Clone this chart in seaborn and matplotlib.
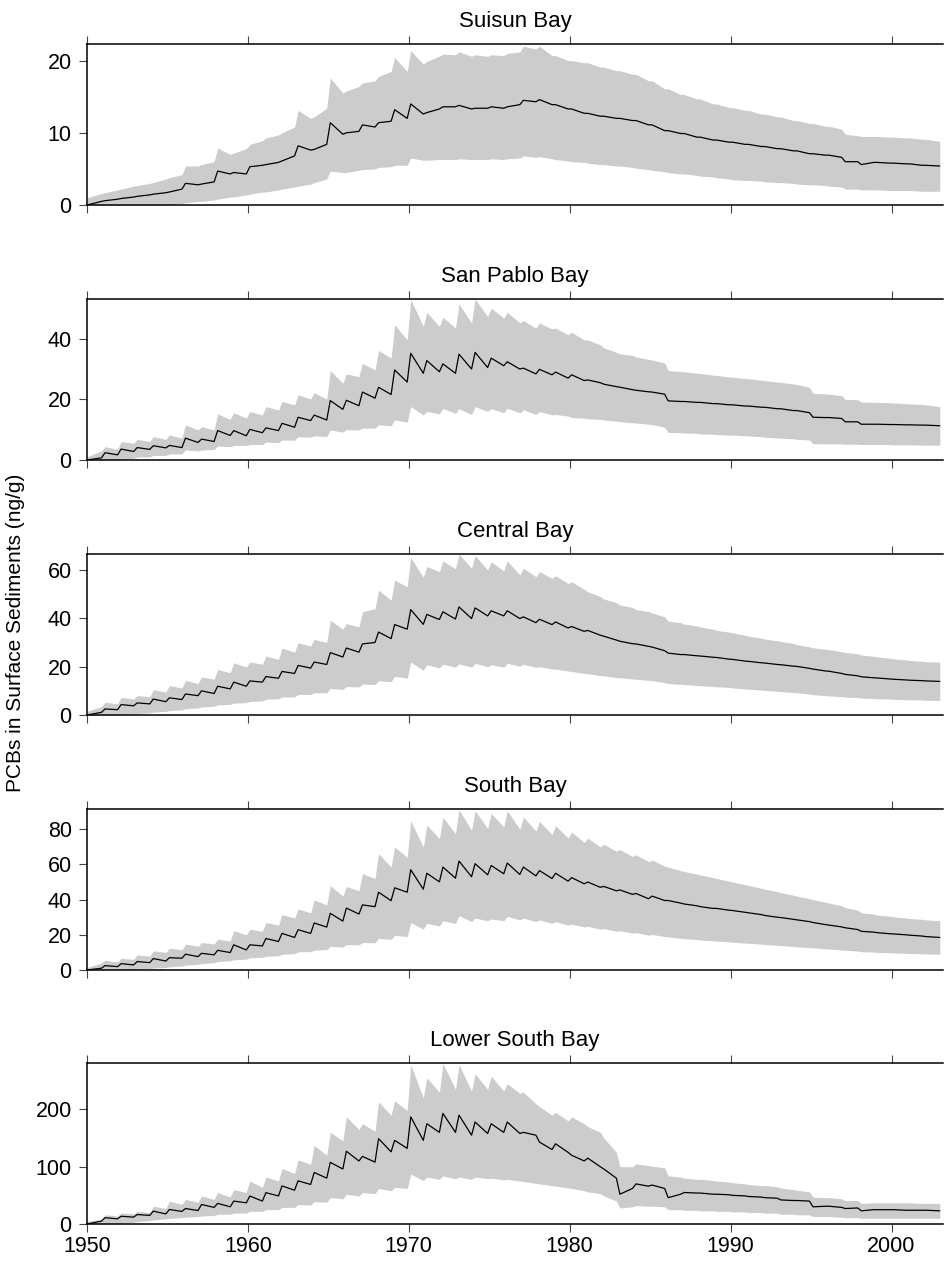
import numpy as np
import pandas as pd
import seaborn as sns
import matplotlib
matplotlib.use("Agg")
import matplotlib.pyplot as plt

# one value per year 1950..2002: "hi" = just after the yearly jump, "lo" = end of year
years = list(range(1950, 2003))

# Suisun Bay
suisun_mean_hi = [0.0, 0.6, 0.9, 1.2, 1.5, 1.8, 3.0, 2.9, 4.7, 4.5,
                  5.3, 5.6, 6.1, 8.2, 7.7, 11.4, 10.0, 11.1, 11.4, 13.2,
                  14.0, 12.8, 13.6, 13.8, 13.4, 13.6, 13.6, 14.5, 14.6, 13.9,
                  13.3, 12.7, 12.3, 12.0, 11.7, 11.1, 10.3, 9.9, 9.4, 9.0,
                  8.7, 8.4, 8.1, 7.8, 7.5, 7.1, 6.9, 6.0, 5.6, 5.9,
                  5.8, 5.7, 5.5]
suisun_mean_lo = [0.5, 0.8, 1.1, 1.4, 1.7, 2.2, 2.8, 3.2, 4.3, 4.3,
                  5.5, 5.9, 6.8, 7.6, 8.4, 9.8, 10.2, 10.8, 11.6, 12.0,
                  12.6, 13.3, 13.6, 13.3, 13.4, 13.4, 13.9, 14.3, 13.9, 13.3,
                  12.7, 12.3, 12.0, 11.7, 11.1, 10.3, 9.9, 9.4, 9.0, 8.7,
                  8.4, 8.1, 7.8, 7.5, 7.1, 6.9, 6.6, 6.0, 5.9, 5.8,
                  5.7, 5.5, 5.4]
suisun_up_hi = [1.0, 1.7, 2.2, 2.7, 3.1, 3.8, 5.4, 5.6, 7.9, 7.2,
                8.4, 9.3, 10.0, 13.1, 12.2, 17.6, 15.8, 16.9, 17.8, 20.4,
                21.4, 19.9, 20.9, 21.2, 20.8, 20.8, 21.0, 22.0, 22.0, 20.7,
                20.0, 19.7, 19.1, 18.6, 18.1, 17.2, 16.1, 15.3, 14.7, 14.0,
                13.5, 13.1, 12.6, 12.2, 11.7, 11.3, 10.9, 9.8, 9.5, 9.5,
                9.4, 9.3, 9.1]
suisun_up_lo = [1.6, 2.1, 2.6, 3.0, 3.6, 4.2, 5.4, 6.0, 7.0, 7.8,
                8.9, 9.7, 10.8, 12.0, 13.4, 15.5, 16.4, 17.2, 18.5, 18.5,
                19.5, 20.6, 20.8, 20.6, 20.6, 20.7, 21.2, 21.6, 20.7, 20.0,
                19.7, 19.1, 18.6, 18.1, 17.2, 16.1, 15.3, 14.7, 14.0, 13.5,
                13.1, 12.6, 12.2, 11.7, 11.3, 10.9, 10.5, 9.6, 9.5, 9.4,
                9.3, 9.1, 8.8]
suisun_dn_hi = [0, 0, 0, 0, 0, 0.0, 0.3, 0.5, 0.8, 1.1,
                1.5, 1.8, 2.2, 2.6, 3.1, 4.7, 4.5, 4.9, 5.2, 5.5,
                6.5, 6.2, 6.3, 6.4, 6.3, 6.4, 6.4, 6.8, 6.7, 6.3,
                6.0, 5.8, 5.6, 5.4, 5.1, 4.8, 4.5, 4.3, 4.0, 3.8,
                3.5, 3.4, 3.2, 3.1, 2.9, 2.8, 2.6, 2.2, 2.1, 2.1,
                2.0, 2.0, 1.9]
suisun_dn_lo = [0, 0, 0, 0, 0, 0.2, 0.5, 0.7, 1.1, 1.4,
                1.8, 2.1, 2.5, 2.9, 3.6, 4.5, 4.8, 5.0, 5.3, 5.5,
                6.2, 6.3, 6.3, 6.3, 6.3, 6.3, 6.5, 6.6, 6.4, 6.1,
                5.9, 5.6, 5.4, 5.2, 4.9, 4.6, 4.3, 4.1, 3.9, 3.6,
                3.4, 3.3, 3.1, 3.0, 2.8, 2.7, 2.5, 2.2, 2.1, 2.0,
                2.0, 1.9, 1.9]

# San Pablo Bay
sanpablo_mean_hi = [0.0, 2.4, 3.6, 4.1, 4.7, 4.8, 7.2, 6.9, 9.7, 9.7,
                    10.1, 10.6, 12.1, 14.1, 14.8, 19.6, 19.7, 22.4, 24.0, 29.7,
                    35.2, 32.8, 31.7, 34.9, 35.5, 33.6, 32.4, 30.3, 29.9, 29.0,
                    28.1, 26.4, 25.0, 24.0, 23.0, 22.4, 19.5, 19.3, 19.0, 18.6,
                    18.2, 17.8, 17.4, 16.9, 16.3, 14.1, 14.0, 12.6, 11.8, 11.8,
                    11.7, 11.6, 11.5]
sanpablo_mean_lo = [0.7, 1.7, 2.8, 3.5, 4.0, 4.1, 5.8, 6.1, 8.1, 8.0,
                    9.0, 9.7, 10.8, 13.0, 13.2, 16.7, 17.9, 20.4, 21.6, 25.7,
                    28.6, 29.1, 28.6, 30.0, 30.5, 31.1, 30.0, 28.4, 28.1, 27.0,
                    26.2, 25.5, 24.2, 23.2, 22.5, 21.7, 19.3, 19.0, 18.6, 18.2,
                    17.8, 17.4, 16.9, 16.3, 15.6, 14.0, 13.7, 12.6, 11.8, 11.7,
                    11.6, 11.5, 11.3]
sanpablo_up_hi = [1.1, 4.4, 6.1, 6.8, 7.7, 8.3, 11.6, 11.0, 15.2, 15.6,
                  16.0, 17.6, 19.3, 21.5, 22.2, 29.5, 28.4, 31.9, 36.1, 44.6,
                  52.9, 48.7, 47.1, 51.5, 53.1, 50.1, 48.7, 46.0, 45.2, 43.5,
                  42.1, 39.6, 37.0, 35.0, 34.0, 33.0, 29.5, 29.1, 28.5, 27.9,
                  27.3, 26.8, 26.2, 25.6, 24.9, 22.0, 21.7, 20.0, 19.1, 19.0,
                  18.8, 18.5, 18.2]
sanpablo_up_lo = [3.0, 3.5, 5.5, 6.1, 6.8, 7.2, 9.9, 9.9, 13.4, 13.8,
                  14.8, 16.5, 18.2, 20.1, 20.1, 25.3, 27.5, 29.7, 33.6, 39.6,
                  44.1, 44.1, 43.5, 45.2, 47.3, 46.8, 45.2, 43.5, 43.2, 41.3,
                  39.6, 38.0, 35.5, 34.5, 33.2, 32.0, 29.2, 28.6, 28.0, 27.4,
                  26.9, 26.3, 25.7, 25.1, 24.0, 21.8, 21.2, 19.9, 19.0, 18.9,
                  18.6, 18.3, 17.6]
sanpablo_dn_hi = [0, 0, 0.2, 1.0, 1.5, 2.0, 3.3, 3.3, 4.6, 4.8,
                  5.1, 5.9, 6.6, 7.7, 8.0, 9.9, 10.0, 10.5, 11.6, 13.2,
                  17.6, 16.0, 17.0, 16.9, 17.6, 16.9, 17.1, 16.6, 16.0, 15.0,
                  14.0, 13.6, 13.2, 12.6, 12.2, 11.7, 9.1, 8.9, 8.6, 8.4,
                  8.2, 7.9, 7.5, 7.2, 6.8, 5.4, 5.3, 5.2, 5.1, 5.1,
                  5.0, 5.0, 4.9]
sanpablo_dn_lo = [0, 0, 0.5, 1.0, 1.5, 2.0, 3.0, 3.5, 4.4, 4.8,
                  5.1, 5.7, 6.5, 7.5, 7.7, 9.2, 9.9, 10.5, 11.3, 12.5,
                  14.9, 15.2, 15.4, 15.0, 16.0, 15.6, 15.5, 15.0, 14.9, 14.5,
                  13.8, 13.4, 12.8, 12.3, 11.8, 10.8, 9.0, 8.8, 8.5, 8.2,
                  8.0, 7.7, 7.3, 7.0, 6.6, 5.3, 5.3, 5.2, 5.1, 5.1,
                  5.0, 4.9, 4.9]

# Central Bay
central_mean_hi = [0.0, 2.5, 4.3, 5.0, 6.6, 7.1, 8.7, 10.0, 11.9, 13.6,
                   14.1, 15.9, 18.0, 20.5, 21.9, 25.8, 27.7, 29.4, 34.3, 37.4,
                   43.6, 41.6, 42.7, 44.7, 44.3, 43.1, 43.1, 40.6, 39.6, 38.5,
                   36.6, 35.0, 32.6, 30.5, 29.4, 28.1, 25.6, 25.0, 24.4, 23.8,
                   23.0, 22.2, 21.5, 20.8, 20.1, 19.0, 18.1, 16.8, 15.8, 15.3,
                   14.8, 14.4, 14.1]
central_mean_lo = [1.1, 2.2, 3.8, 4.6, 5.5, 6.4, 8.0, 8.9, 10.8, 11.9,
                   13.6, 15.2, 17.2, 19.4, 20.9, 24.0, 26.0, 30.0, 31.6, 35.5,
                   37.5, 39.5, 39.7, 39.9, 41.0, 41.0, 39.9, 38.2, 37.4, 36.0,
                   34.6, 33.0, 31.0, 29.5, 28.4, 26.6, 25.0, 24.5, 23.9, 23.1,
                   22.3, 21.6, 20.9, 20.2, 19.3, 18.2, 17.2, 16.2, 15.4, 14.9,
                   14.5, 14.2, 13.9]
central_up_hi = [1.5, 5.3, 7.3, 8.0, 10.5, 12.2, 14.3, 15.7, 18.8, 21.6,
                 21.9, 24.4, 27.7, 29.9, 31.3, 39.2, 37.8, 42.7, 51.7, 55.8,
                 65.1, 61.4, 63.7, 66.5, 65.9, 63.4, 63.7, 60.7, 59.3, 57.6,
                 55.1, 51.0, 48.0, 45.5, 43.6, 42.2, 38.8, 37.6, 36.4, 35.0,
                 34.0, 32.6, 31.4, 30.4, 29.1, 27.8, 27.0, 25.9, 24.8, 24.0,
                 23.2, 22.6, 22.0]
central_up_lo = [3.5, 4.6, 6.6, 7.6, 9.5, 11.2, 13.0, 14.8, 17.5, 19.8,
                 21.0, 23.0, 26.0, 28.5, 30.0, 35.5, 36.5, 44.0, 47.5, 53.0,
                 57.0, 59.3, 60.5, 60.7, 60.0, 59.6, 58.0, 57.2, 56.5, 54.4,
                 52.0, 49.0, 46.5, 44.5, 42.8, 40.6, 38.2, 36.8, 35.5, 34.3,
                 33.0, 31.8, 30.7, 29.6, 28.2, 27.2, 26.2, 25.3, 24.3, 23.5,
                 22.8, 22.2, 21.9]
central_dn_hi = [0, 0, 0.1, 0.6, 1.2, 1.8, 2.6, 3.3, 4.2, 4.9,
                 5.6, 6.5, 7.4, 8.5, 9.2, 11.0, 11.8, 12.8, 14.2, 16.0,
                 21.9, 20.8, 21.0, 21.2, 21.4, 20.8, 21.4, 21.0, 20.0, 19.0,
                 18.0, 17.1, 16.2, 15.4, 14.8, 14.2, 13.0, 12.6, 12.1, 11.7,
                 11.2, 10.7, 10.2, 9.7, 9.2, 8.4, 7.9, 7.4, 7.0, 6.7,
                 6.5, 6.3, 6.1]
central_dn_lo = [0, 0, 0.4, 0.9, 1.5, 2.1, 2.9, 3.6, 4.4, 5.1,
                 5.8, 6.7, 7.5, 8.5, 9.2, 10.6, 11.6, 12.6, 13.8, 15.2,
                 18.5, 19.5, 19.8, 19.8, 20.0, 19.8, 20.2, 19.7, 19.0, 18.2,
                 17.2, 16.3, 15.5, 14.9, 14.3, 13.4, 12.7, 12.2, 11.8, 11.4,
                 10.8, 10.3, 9.8, 9.3, 8.7, 8.0, 7.6, 7.2, 6.8, 6.6,
                 6.3, 6.2, 6.0]

# South Bay
south_mean_hi = [0.0, 2.5, 3.6, 4.8, 6.5, 7.0, 9.0, 9.5, 11.2, 14.3,
                 14.3, 17.9, 20.8, 22.9, 26.7, 32.2, 35.2, 37.0, 44.2, 46.7,
                 57.0, 55.0, 58.5, 61.9, 60.4, 59.4, 60.8, 58.5, 56.5, 55.0,
                 52.5, 50.0, 47.5, 45.5, 43.5, 42.0, 39.5, 37.5, 36.0, 35.0,
                 33.8, 32.5, 31.0, 29.8, 28.5, 27.0, 25.5, 24.0, 22.0, 21.2,
                 20.5, 19.8, 19.0]
south_mean_lo = [1.0, 1.9, 2.9, 4.2, 5.1, 6.7, 7.6, 8.6, 9.9, 11.4,
                 13.7, 16.2, 18.5, 20.8, 24.4, 27.8, 31.8, 36.0, 39.4, 44.2,
                 45.9, 50.1, 52.2, 53.0, 54.1, 54.7, 54.3, 53.5, 52.0, 50.5,
                 49.0, 47.0, 45.0, 43.0, 40.5, 39.5, 38.0, 36.5, 35.0, 34.0,
                 32.8, 31.5, 30.0, 28.8, 27.5, 25.8, 24.5, 23.0, 21.5, 20.6,
                 20.0, 19.3, 18.5]
south_up_hi = [1.3, 5.5, 6.7, 8.6, 10.9, 12.4, 14.7, 15.6, 17.5, 22.3,
               23.2, 27.0, 31.5, 34.7, 39.8, 48.0, 47.4, 54.7, 66.1, 69.9,
               84.8, 82.3, 86.7, 91.0, 90.5, 89.0, 90.5, 87.0, 84.5, 82.0,
               78.5, 75.0, 71.5, 68.5, 65.5, 62.5, 58.5, 56.0, 54.0, 52.0,
               50.0, 48.0, 46.0, 44.0, 42.0, 40.0, 38.0, 35.5, 32.5, 31.2,
               30.2, 29.3, 28.5]
south_up_lo = [4.0, 4.5, 6.0, 7.8, 10.0, 11.5, 13.5, 14.8, 16.5, 20.0,
               22.0, 25.5, 29.5, 32.5, 37.0, 42.0, 45.0, 52.0, 58.5, 64.0,
               69.9, 74.7, 77.5, 79.4, 80.4, 81.3, 80.0, 79.0, 77.0, 75.0,
               72.5, 70.0, 67.5, 64.5, 61.5, 59.0, 56.5, 54.5, 52.5, 50.5,
               48.5, 46.5, 44.5, 42.5, 40.5, 38.5, 36.5, 34.0, 31.8, 30.6,
               29.6, 28.8, 28.0]
south_dn_hi = [0, 0, 0, 0.4, 1.1, 1.8, 2.8, 3.6, 4.8, 5.8,
               6.9, 7.8, 8.9, 10.3, 11.3, 13.5, 14.5, 15.6, 18.0, 19.7,
               27.0, 26.5, 28.0, 30.9, 29.5, 29.0, 30.5, 29.5, 28.5, 27.5,
               26.0, 24.8, 23.5, 22.3, 21.2, 20.2, 18.8, 17.8, 17.0, 16.4,
               15.8, 15.2, 14.5, 13.9, 13.2, 12.6, 11.9, 11.2, 10.4, 10.0,
               9.7, 9.4, 9.1]
south_dn_lo = [0, 0, 0.2, 0.7, 1.4, 2.2, 3.2, 4.1, 5.2, 6.2,
               7.2, 8.1, 9.3, 10.5, 11.6, 13.0, 14.3, 15.5, 17.4, 19.0,
               23.2, 25.0, 26.5, 27.5, 28.0, 28.0, 28.5, 27.5, 26.5, 25.5,
               24.5, 23.2, 22.0, 21.0, 19.8, 19.0, 18.0, 17.3, 16.6, 16.0,
               15.3, 14.7, 14.0, 13.4, 12.7, 12.0, 11.4, 10.8, 10.2, 9.8,
               9.5, 9.2, 9.0]

# Lower South Bay
lsouth_mean_hi = [0, 11, 13.5, 16.5, 22.4, 25.3, 27, 34, 36, 40,
                  48.8, 54.7, 66.5, 75.3, 90, 107.6, 127, 118, 149, 146,
                  187, 175, 193, 190, 178, 175, 178, 160, 143, 140,
                  120, 115, 96, 52, 70, 68, 46, 55, 54, 52,
                  50, 48, 46, 42, 41, 30, 31, 27, 23, 25,
                  25, 24, 24]
lsouth_mean_lo = [5, 9, 12, 15, 17.6, 22, 23.5, 29, 30, 37,
                  40, 49, 59, 69, 80, 96, 110, 108, 126, 132,
                  146, 160, 160, 155, 158, 160, 158, 155, 130, 125,
                  110, 100, 80, 62, 66, 62, 52, 54, 52, 51,
                  49, 47, 45, 41, 40, 31, 29, 28, 25, 25,
                  24, 24, 23]
lsouth_up_hi = [5, 16, 19, 22, 31, 40, 43, 49, 55, 60,
                75, 82, 97, 112, 137, 160, 187, 175, 213, 215,
                278, 255, 280, 278, 262, 258, 245, 230, 205, 195,
                187, 170, 150, 100, 105, 101, 84, 80, 78, 75,
                72, 69, 67, 63, 59, 47, 46, 41, 36, 37,
                37, 37, 36]
lsouth_up_lo = [8, 14, 18, 20, 27, 34, 38, 43, 47, 55,
                64, 75, 88, 104, 120, 145, 165, 162, 190, 198,
                220, 230, 235, 232, 235, 232, 228, 210, 190, 180,
                175, 160, 125, 100, 102, 98, 82, 78, 76, 73,
                70, 67, 65, 60, 56, 46, 44, 41, 37, 37,
                37, 36, 36]
lsouth_dn_hi = [0, 0, 1, 4, 7, 10, 12, 14, 17, 19,
                22, 25, 29, 34, 39, 46, 52, 55, 62, 64,
                87, 82, 84, 82, 82, 80, 78, 74, 70, 66,
                62, 56, 49, 28, 32, 31, 25, 24, 23, 22,
                21, 20, 19, 17, 16, 13, 13, 11, 10, 10,
                10, 10, 10]
lsouth_dn_lo = [0, 0, 3, 6, 9, 11, 13, 15, 17, 19,
                22, 25, 29, 33, 38, 44, 49, 53, 58, 62,
                76, 78, 79, 78, 79, 77, 75, 71, 67, 63,
                58, 53, 40, 30, 31, 30, 25, 24, 23, 22,
                21, 20, 19, 17, 16, 13, 12, 11, 10, 10,
                10, 10, 10]

bays = ["Suisun Bay", "San Pablo Bay", "Central Bay", "South Bay", "Lower South Bay"]
ylims = [22.3, 53.1, 66.6, 91.5, 281]
yticks = [[0, 10, 20], [0, 20, 40], [0, 20, 40, 60], [0, 20, 40, 60, 80], [0, 100, 200]]

series = [
    (suisun_mean_hi, suisun_mean_lo, suisun_up_hi, suisun_up_lo, suisun_dn_hi, suisun_dn_lo),
    (sanpablo_mean_hi, sanpablo_mean_lo, sanpablo_up_hi, sanpablo_up_lo, sanpablo_dn_hi, sanpablo_dn_lo),
    (central_mean_hi, central_mean_lo, central_up_hi, central_up_lo, central_dn_hi, central_dn_lo),
    (south_mean_hi, south_mean_lo, south_up_hi, south_up_lo, south_dn_hi, south_dn_lo),
    (lsouth_mean_hi, lsouth_mean_lo, lsouth_up_hi, lsouth_up_lo, lsouth_dn_hi, lsouth_dn_lo),
]


def zigzag(hi, lo):
    # each year: peak shortly after the yearly jump, then the low before the next one
    yr = np.array(years, dtype=float)
    t_hi = yr + 0.12
    t_hi[0] = yr[0]
    t_lo = yr + 0.9
    t_lo[-1] = yr[-1] + 1.0
    t = np.column_stack([t_hi, t_lo]).ravel()
    v = np.column_stack([hi, lo]).ravel()
    return t, v


sns.set_theme(style="ticks")
plt.rcParams["font.family"] = ["Liberation Sans", "DejaVu Sans"]
plt.rcParams["text.color"] = "black"

fig = plt.figure(figsize=(9.45, 12.65), dpi=100)

bottoms_px = [205, 460, 715, 970, 1224]
H = 1265.0
for i, (name, s) in enumerate(zip(bays, series)):
    ax = fig.add_axes([87 / 945, 1 - bottoms_px[i] / H, (943 - 87) / 945, 161 / H])
    t, mean = zigzag(s[0], s[1])
    _, up = zigzag(s[2], s[3])
    _, dn = zigzag(s[4], s[5])
    df = pd.DataFrame({"t": t, "mean": mean, "up": up, "dn": dn})

    ax.fill_between(df["t"], df["dn"], df["up"], color="#cccccc", lw=0)
    sns.lineplot(data=df, x="t", y="mean", ax=ax, color="black", lw=0.9,
                 estimator=None, sort=False)

    ax.set_xlim(1950, 2003.2)
    ax.set_ylim(0, ylims[i])
    ax.set_xticks(range(1950, 2001, 10))
    ax.set_yticks(yticks[i])
    ax.set_xlabel("")
    ax.set_ylabel("")
    ax.set_title(name, fontsize=16, pad=12.5, color="black")

    for side in ["left", "top", "bottom"]:
        ax.spines[side].set_visible(True)
        ax.spines[side].set_linewidth(1.1)
        ax.spines[side].set_color("black")
    ax.spines["right"].set_visible(False)

    ax.tick_params(axis="x", which="both", top=True, bottom=True, direction="out",
                   length=6, width=0.8, color="#444444", labelcolor="black",
                   labelsize=15.5, labelbottom=(i == 4), pad=3)
    ax.tick_params(axis="y", direction="out", length=6, width=0.8,
                   color="#444444", labelcolor="black", labelsize=15.5, pad=5)

fig.text(0.016, 0.5, "PCBs in Surface Sediments (ng/g)", rotation=90,
         ha="center", va="center", fontsize=15, color="black")

fig.savefig("out.png", dpi=100)
